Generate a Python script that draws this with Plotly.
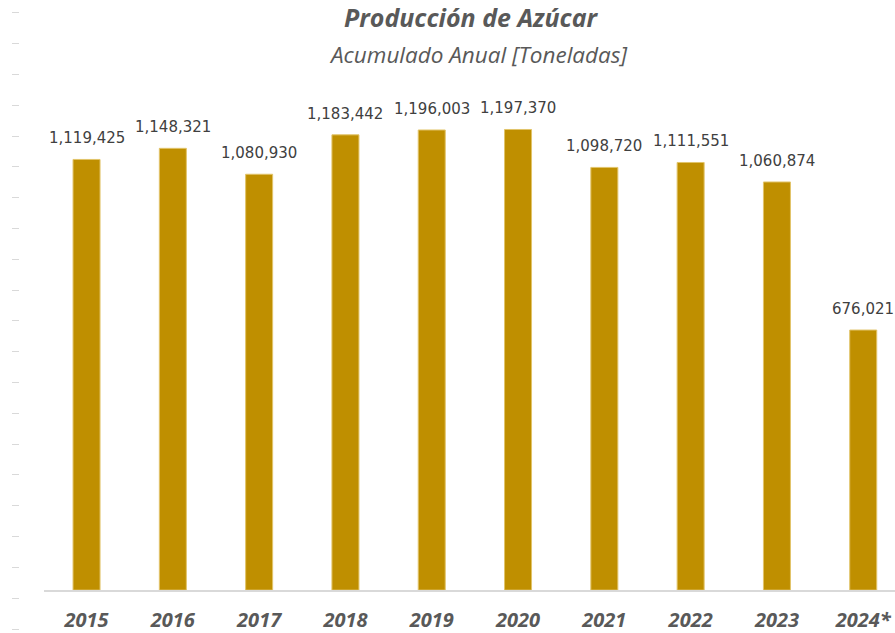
import plotly.graph_objects as go

# datos
years = ['2015', '2016', '2017', '2018', '2019', '2020', '2021', '2022', '2023', '2024*']
toneladas = [1119425, 1148321, 1080930, 1183442, 1196003, 1197370, 1098720, 1111551, 1060874, 676021]
labels = [f'{v:,}' for v in toneladas]

BAR_COLOR = '#BF8F00'
GRAY = '#595959'

fig = go.Figure()

fig.add_trace(go.Bar(
    x=years,
    y=toneladas,
    marker=dict(color=BAR_COLOR, line=dict(color='#E2C46A', width=1)),
    hoverinfo='x+y',
    showlegend=False,
))

# etiquetas de datos sobre cada barra (x por índice de categoría)
for i, (v, lab) in enumerate(zip(toneladas, labels)):
    fig.add_annotation(
        x=i, y=v, text=lab, showarrow=False,
        yanchor='bottom', yshift=10,
        font=dict(family='DejaVu Sans', size=15, color='#404040'),
    )

# eje decorativo de rayitas a la izquierda
fig.add_trace(go.Scatter(x=[], y=[], xaxis='x2', yaxis='y2', showlegend=False))

fig.add_annotation(
    text='<b><i>Producción de Azúcar</i></b>', xref='paper', yref='paper',
    x=0.527, y=0.973, showarrow=False, xanchor='center', yanchor='middle',
    font=dict(family='Open Sans', size=25, color=GRAY),
)
fig.add_annotation(
    text='<i>Acumulado Anual [Toneladas]</i>', xref='paper', yref='paper',
    x=0.534, y=0.913, showarrow=False, xanchor='center', yanchor='middle',
    font=dict(family='Open Sans', size=22.5, color=GRAY),
)

fig.update_layout(
    width=895, height=633,
    margin=dict(l=0, r=0, t=0, b=0),
    plot_bgcolor='white', paper_bgcolor='white',
    bargap=0.687,
    xaxis=dict(
        type='category',
        domain=[0.0492, 1], range=[-0.4925, 9.368],
        showline=True, linecolor='#D9D9D9', linewidth=2,
        showgrid=False, ticks='', ticklabelstandoff=11,
        tickfont=dict(family='Open Sans', size=20, color=GRAY, weight='bold', style='italic'),
    ),
    yaxis=dict(
        domain=[0.0648, 1], range=[0, 1533900],
        visible=False, showgrid=False,
    ),
    xaxis2=dict(domain=[0.0223, 0.04], visible=False, anchor='y2'),
    yaxis2=dict(
        domain=[0, 1], anchor='x2', range=[0, 20.485],
        tick0=0.065, dtick=1, ticks='outside', ticklen=7, tickwidth=1,
        tickcolor='#D9D9D9', showticklabels=False, showline=False,
        showgrid=False, zeroline=False,
    ),
)

fig.write_html('out.html', config={'displayModeBar': False},
               post_script="document.body.style.margin='0';")
